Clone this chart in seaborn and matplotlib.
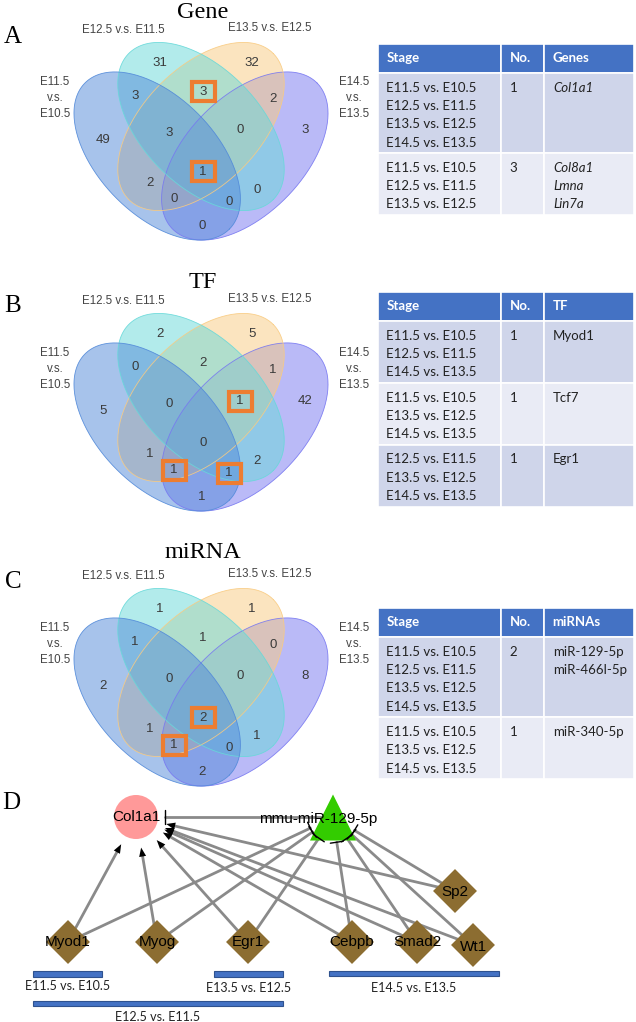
import numpy as np
import pandas as pd
import matplotlib
matplotlib.use("Agg")
import matplotlib.pyplot as plt
from matplotlib.patches import Rectangle
import seaborn as sns

# ---------------- data ----------------
set_top_left = "E12.5 v.s. E11.5"
set_top_right = "E13.5 v.s. E12.5"
set_left = "E11.5\nv.s.\nE10.5"
set_right = "E14.5\nv.s.\nE13.5"

regions = ["1", "2", "3", "4", "12", "13", "14", "23", "24", "34",
           "123", "124", "134", "234", "1234"]
gene_counts = [49, 31, 32, 3, 3, 2, 0, 3, 0, 2, 3, 0, 0, 0, 1]
tf_counts = [5, 2, 5, 42, 0, 1, 1, 2, 2, 1, 0, 1, 1, 1, 0]
mirna_counts = [2, 1, 1, 8, 1, 1, 2, 1, 1, 0, 0, 0, 1, 0, 2]
gene_boxed = ["23", "1234"]
tf_boxed = ["234", "134", "124"]
mirna_boxed = ["1234", "134"]
panel_titles = ["Gene", "TF", "miRNA"]
panel_letters = ["A", "B", "C"]

gene_header = ["Stage", "No.", "Genes"]
gene_stages = [["E11.5 vs. E10.5", "E12.5 vs. E11.5", "E13.5 vs. E12.5", "E14.5 vs. E13.5"],
               ["E11.5 vs. E10.5", "E12.5 vs. E11.5", "E13.5 vs. E12.5"]]
gene_no = ["1", "3"]
gene_items = [["Col1a1"], ["Col8a1", "Lmna", "Lin7a"]]

tf_header = ["Stage", "No.", "TF"]
tf_stages = [["E11.5 vs. E10.5", "E12.5 vs. E11.5", "E14.5 vs. E13.5"],
             ["E11.5 vs. E10.5", "E13.5 vs. E12.5", "E14.5 vs. E13.5"],
             ["E12.5 vs. E11.5", "E13.5 vs. E12.5", "E14.5 vs. E13.5"]]
tf_no = ["1", "1", "1"]
tf_items = [["Myod1"], ["Tcf7"], ["Egr1"]]

mirna_header = ["Stage", "No.", "miRNAs"]
mirna_stages = [["E11.5 vs. E10.5", "E12.5 vs. E11.5", "E13.5 vs. E12.5", "E14.5 vs. E13.5"],
                ["E11.5 vs. E10.5", "E13.5 vs. E12.5", "E14.5 vs. E13.5"]]
mirna_no = ["2", "1"]
mirna_items = [["miR-129-5p", "miR-466l-5p"], ["miR-340-5p"]]

# network
node_names = ["Col1a1", "mmu-miR-129-5p", "Myod1", "Myog", "Egr1", "Cebpb", "Smad2", "Wt1", "Sp2"]
node_kind = ["gene", "mirna", "tf", "tf", "tf", "tf", "tf", "tf", "tf"]
tf_to_gene = ["Myod1", "Myog", "Egr1", "Cebpb", "Smad2", "Wt1", "Sp2"]
tf_to_mirna = ["Myod1", "Myog", "Egr1", "Cebpb", "Smad2", "Wt1", "Sp2"]
mirna_to_gene = ["Col1a1"]
stage_bar_labels = ["E11.5 vs. E10.5", "E13.5 vs. E12.5", "E14.5 vs. E13.5", "E12.5 vs. E11.5"]

# ---------------- layout ----------------
node_x = [136, 333, 68, 157, 248, 352, 417, 473, 455]
node_y = [817, 817.5, 942, 942, 942, 942, 942, 945, 891]
bar_left = [33, 214, 329, 33]
bar_right = [102, 283, 499, 283]
bar_y = [974, 974, 973.5, 1003.5]
bar_text_y = [986, 988, 988, 1017]

region_pos = {
    "1": (0.164, 0.524), "2": (0.36, 0.785), "3": (0.675, 0.785), "4": (0.856, 0.558),
    "12": (0.274, 0.673), "13": (0.325, 0.378), "14": (0.503, 0.233), "23": (0.507, 0.687),
    "24": (0.692, 0.355), "34": (0.747, 0.663), "123": (0.39, 0.548), "124": (0.596, 0.314),
    "134": (0.408, 0.324), "234": (0.634, 0.558), "1234": (0.507, 0.416)}
ellipses = [((0.35, 0.47), -45), ((0.5, 0.57), -45), ((0.5, 0.57), 45), ((0.65, 0.47), 45)]
venn_colors = ["#5189D9", "#67D9D9", "#F9CB81", "#7777F1"]
panel_dy = [0, 271, 546]
title_y = [12, 282, 553]
letter_y = [37, 306, 582]
table_top = [44, 292, 608]

sns.set_theme(style="white")
plt.rcParams["font.family"] = ["Liberation Sans", "DejaVu Sans"]

fig = plt.figure(figsize=(6.36, 10.22), dpi=100)
ax = fig.add_axes([0, 0, 1, 1])
ax.set_xlim(0, 636)
ax.set_ylim(1022, 0)
ax.axis("off")


def to_px(u, v, dy):
    return 201 + (np.asarray(u) - 0.5) * 292, 156 + dy - (np.asarray(v) - 0.47) * 295


def draw_venn(counts, boxed, dy, title, letter, ty, ly):
    t = np.linspace(0, 2 * np.pi, 300)
    # last set first, so the first set lies on top
    for ((cx, cy), ang), col in list(zip(ellipses, venn_colors))[::-1]:
        th = np.deg2rad(ang)
        u = cx + 0.35 * np.cos(t) * np.cos(th) - 0.2 * np.sin(t) * np.sin(th)
        v = cy + 0.35 * np.cos(t) * np.sin(th) + 0.2 * np.sin(t) * np.cos(th)
        px, py = to_px(u, v, dy)
        ax.fill(px, py, color=col, alpha=0.5, lw=0)
        ax.plot(px, py, color=col, lw=0.6, alpha=0.9)
    for reg, c in zip(regions, counts):
        px, py = to_px(*region_pos[reg], dy)
        ax.text(px, py, str(c), ha="center", va="center", fontsize=9.5, color="#3a3a3a")
        if reg in boxed:
            ax.add_patch(Rectangle((px - 11.5, py - 9.5), 23, 19, fill=False,
                                   edgecolor="#ED7D31", lw=3, zorder=5))
    ax.text(203, ty, title, ha="center", va="center", fontsize=17.5,
            family="Liberation Serif", color="black")
    ax.text(13, ly, letter, ha="center", va="center", fontsize=18,
            family="Liberation Serif", color="black")
    lab = dict(ha="center", va="center", fontsize=8.3, color="#444444", linespacing=1.4)
    ax.text(123, 30 + dy, set_top_left, **lab)
    ax.text(270, 28 + dy, set_top_right, **lab)
    ax.text(55, 98 + dy, set_left, **lab)
    ax.text(354, 98 + dy, set_right, **lab)


def draw_table(top, header, stages, nums, items, italic):
    cols = [378, 501, 544, 634]
    hh, lh = 29, 18.3
    for j in range(3):
        ax.add_patch(Rectangle((cols[j], top), cols[j + 1] - cols[j], hh,
                               facecolor="#4472C4", edgecolor="white", lw=1.2))
        ax.text(cols[j] + 8.5, top + hh / 2, header[j], ha="left", va="center",
                fontsize=9.5, family="Lato", weight="bold", color="white")
    y = top + hh
    for i, (st, no, it) in enumerate(zip(stages, nums, items)):
        h = len(st) * lh + 7
        fc = "#CFD5EA" if i % 2 == 0 else "#E9EBF5"
        for j in range(3):
            ax.add_patch(Rectangle((cols[j], y), cols[j + 1] - cols[j], h,
                                   facecolor=fc, edgecolor="white", lw=1.2))
        for k, s in enumerate(st):
            ax.text(cols[0] + 8.5, y + 14.7 + k * lh, s, ha="left", va="center",
                    fontsize=9.5, family="Lato", color="#222222")
        ax.text(cols[1] + 8.5, y + 14.7, no, ha="left", va="center",
                fontsize=9.5, family="Lato", color="#222222")
        for k, s in enumerate(it):
            ax.text(cols[2] + 9, y + 14.7 + k * lh, s, ha="left", va="center",
                    fontsize=9.5, family="Lato", color="#222222",
                    style="italic" if italic else "normal")
        y += h


for counts, boxed, dy, title, letter, ty, ly in zip(
        [gene_counts, tf_counts, mirna_counts], [gene_boxed, tf_boxed, mirna_boxed],
        panel_dy, panel_titles, panel_letters, title_y, letter_y):
    draw_venn(counts, boxed, dy, title, letter, ty, ly)

draw_table(table_top[0], gene_header, gene_stages, gene_no, gene_items, True)
draw_table(table_top[1], tf_header, tf_stages, tf_no, tf_items, False)
draw_table(table_top[2], mirna_header, mirna_stages, mirna_no, mirna_items, False)

# ---------------- network (D) ----------------
ax.text(11, 803, "D", ha="center", va="center", fontsize=18,
        family="Liberation Serif", color="black")
nodes = pd.DataFrame({"name": node_names, "kind": node_kind, "x": node_x, "y": node_y})
pos = {n: np.array([x, y], float) for n, x, y in zip(node_names, node_x, node_y)}
edge_col = "#8A8A8A"
gene, mir = pos["Col1a1"], pos["mmu-miR-129-5p"]

for tf in tf_to_gene:
    src = pos[tf]
    d = (src - gene) / np.linalg.norm(src - gene)
    tip = gene + d * 31
    base = tip + d * 9
    ax.plot([src[0], base[0]], [src[1], base[1]], color=edge_col, lw=2, zorder=1)
    nrm = np.array([-d[1], d[0]])
    head = np.array([tip, base + nrm * 3.5, base - nrm * 3.5])
    ax.fill(head[:, 0], head[:, 1], color="black", zorder=2, lw=0)

for tf in tf_to_mirna:
    src = pos[tf]
    d = (src - mir) / np.linalg.norm(src - mir)
    end = mir + d * 25
    ax.plot([src[0], end[0]], [src[1], end[1]], color=edge_col, lw=2, zorder=1)
    nrm = np.array([-d[1], d[0]])
    ax.plot([end[0] - nrm[0] * 6.5, end[0] + nrm[0] * 6.5],
            [end[1] - nrm[1] * 6.5, end[1] + nrm[1] * 6.5], color="black", lw=1, zorder=4)

for g in mirna_to_gene:
    tgt = pos[g]
    ax.plot([mir[0], tgt[0] + 29], [tgt[1], tgt[1]], color=edge_col, lw=2, zorder=1)
    ax.plot([tgt[0] + 29, tgt[0] + 29], [tgt[1] - 7, tgt[1] + 7], color="black", lw=1, zorder=4)

sns.scatterplot(data=nodes, x="x", y="y", hue="kind", style="kind", size="kind",
                 palette={"gene": "#FF9999", "mirna": "#33CC00", "tf": "#8C6D31"},
                 markers={"gene": "o", "mirna": "^", "tf": "D"},
                 sizes={"gene": 1004, "mirna": 1100, "tf": 500},
                 linewidth=0, legend=False, ax=ax, zorder=3)
ax.set_xlim(0, 636)
ax.set_ylim(1022, 0)
ax.axis("off")

label_off = {"mmu-miR-129-5p": (-15, 1.5), "Wt1": (0, 2), "Sp2": (0, 1)}
for n, x, y in zip(node_names, node_x, node_y):
    ox, oy = label_off.get(n, (0, 0))
    ax.text(x + ox, y + oy, n, ha="center", va="center", fontsize=11, color="black", zorder=6)

ax.barh(bar_y, np.array(bar_right) - np.array(bar_left), left=bar_left, height=5.5,
        color="#4472C4", edgecolor="#2F528F", lw=0.8, zorder=2)
for lab, l, r, ty in zip(stage_bar_labels, bar_left, bar_right, bar_text_y):
    ax.text((l + r) / 2, ty, lab, ha="center", va="center", fontsize=9,
            family="Lato", color="#222222")

fig.savefig("out.png", dpi=100)
